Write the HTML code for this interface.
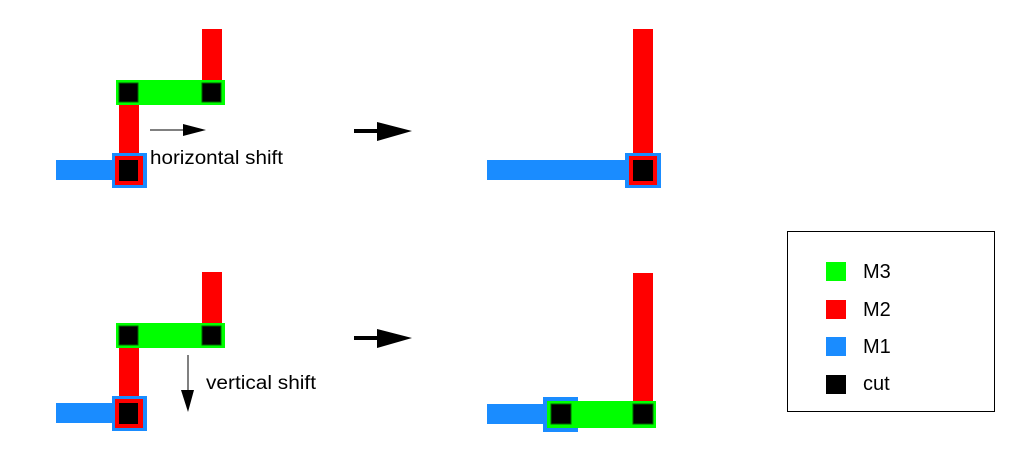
<!DOCTYPE html>
<html><head><style>body{margin:0;background:#fff}svg{display:block}</style></head><body>
<svg width="1013" height="455" xmlns="http://www.w3.org/2000/svg" font-family="Liberation Sans, sans-serif">
<defs>
<g id="left">
<rect x="202" y="29" width="20" height="55" fill="#ff0000"/>
<rect x="119" y="100" width="20" height="55" fill="#ff0000"/>
<rect x="116" y="80" width="109" height="25" fill="#00ff00"/>
<rect x="119" y="83" width="19" height="19" fill="#000" stroke="#006600" stroke-width="1"/>
<rect x="202" y="83" width="19" height="19" fill="#000" stroke="#006600" stroke-width="1"/>
<rect x="56" y="160" width="58" height="20" fill="#1a8cff"/>
<rect x="112" y="153" width="35" height="35" fill="#1a8cff"/>
<rect x="115" y="156" width="28" height="29" fill="#ff0000"/>
<rect x="119" y="160" width="19" height="21" fill="#000"/>
</g>
<g id="bigarrow">
<rect x="354" y="129" width="26" height="4" fill="#000"/>
<polygon points="377,122 412,131 377,141" fill="#000"/>
</g>
</defs>
<use href="#left"/>
<use href="#left" transform="translate(0,243)"/>
<use href="#bigarrow"/>
<use href="#bigarrow" transform="translate(0,207)"/>
<line x1="150" y1="130" x2="184" y2="130" stroke="#000" stroke-width="1"/>
<polygon points="183,124 206,130 183,136" fill="#000"/>
<text x="150" y="164" font-size="19" textLength="133" lengthAdjust="spacingAndGlyphs">horizontal shift</text>
<line x1="188" y1="355" x2="188" y2="392" stroke="#000" stroke-width="1"/>
<polygon points="181,390 194,390 188,412" fill="#000"/>
<text x="206" y="389" font-size="19" textLength="110" lengthAdjust="spacingAndGlyphs">vertical shift</text>
<rect x="633" y="29" width="20" height="126" fill="#ff0000"/>
<rect x="487" y="160" width="140" height="20" fill="#1a8cff"/>
<rect x="625" y="153" width="36" height="35" fill="#1a8cff"/>
<rect x="629" y="156" width="28" height="29" fill="#ff0000"/>
<rect x="633" y="160" width="20" height="21" fill="#000"/>
<rect x="633" y="273" width="20" height="130" fill="#ff0000"/>
<rect x="487" y="404" width="58" height="20" fill="#1a8cff"/>
<rect x="543" y="397" width="35" height="35" fill="#1a8cff"/>
<rect x="547" y="401" width="109" height="27" fill="#00ff00"/>
<rect x="551" y="404" width="20" height="20" fill="#000" stroke="#006600" stroke-width="1"/>
<rect x="633" y="404" width="20" height="20" fill="#000" stroke="#006600" stroke-width="1"/>
<rect x="787.5" y="231.5" width="207" height="180" fill="none" stroke="#000" stroke-width="1"/>
<rect x="826" y="262" width="20" height="19" fill="#00ff00"/>
<rect x="826" y="300" width="20" height="19" fill="#ff0000"/>
<rect x="826" y="337" width="20" height="19" fill="#1a8cff"/>
<rect x="826" y="375" width="20" height="19" fill="#000"/>
<text x="863" y="278" font-size="20">M3</text>
<text x="863" y="316" font-size="20">M2</text>
<text x="863" y="353" font-size="20">M1</text>
<text x="863" y="390" font-size="20">cut</text>
</svg>
</body></html>
